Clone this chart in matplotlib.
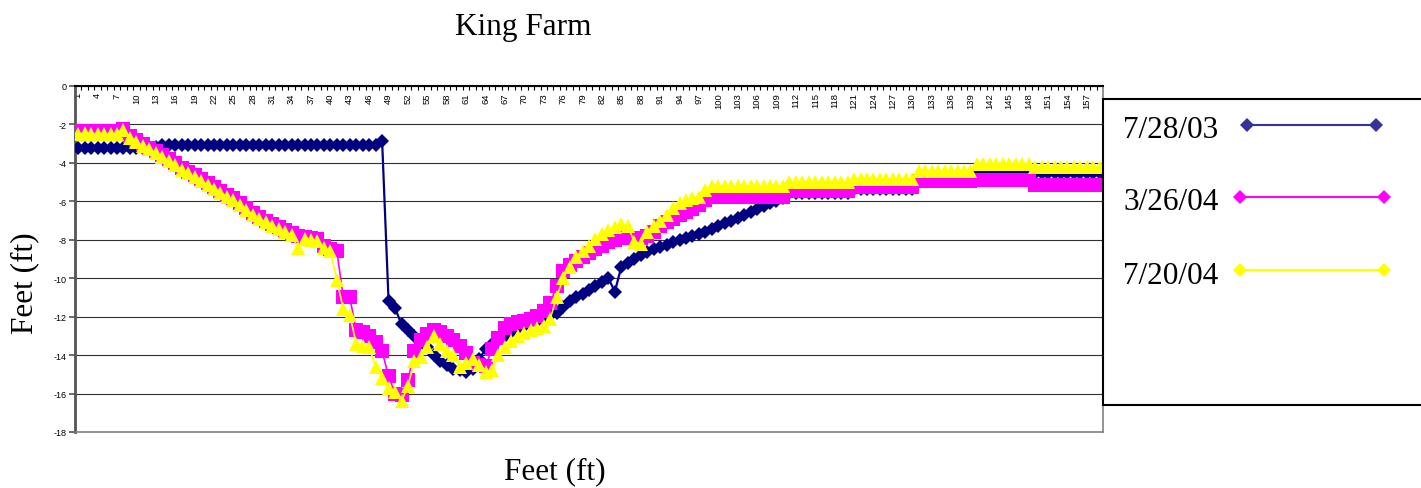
import matplotlib
matplotlib.use("Agg")
import matplotlib.pyplot as plt
from matplotlib.lines import Line2D
from matplotlib.patches import Rectangle

plt.rcParams['axes.unicode_minus'] = False
plt.rcParams['font.family'] = ['Liberation Sans', 'DejaVu Sans']

# station numbers along the section (category axis)
stations = list(range(1, 160))
station_labels = [str(s) for s in stations[::3]]

# depth readings (ft)
jul_2003 = [
    -3.25, -3.25, -3.25, -3.25, -3.25, -3.25, -3.2, -3.2, -3.2, -3.2,
    -3.2, -3.15, -3.15, -3.05, -3.05, -3.05, -3.05, -3.05, -3.05, -3.05,
    -3.05, -3.05, -3.05, -3.05, -3.05, -3.05, -3.05, -3.05, -3.05, -3.05,
    -3.05, -3.05, -3.05, -3.05, -3.05, -3.05, -3.05, -3.05, -3.05, -3.05,
    -3.05, -3.05, -3.05, -3.05, -3.05, -3.05, -3.05, -2.85, -11.2, -11.55,
    -12.4, -12.7, -13.0, -13.3, -13.6, -14.0, -14.3, -14.5, -14.7, -14.8,
    -14.9, -14.7, -14.2, -13.7, -13.4, -13.2, -13.0, -12.8, -12.6, -12.5,
    -12.3, -12.2, -12.0, -11.9, -11.8, -11.5, -11.2, -11.0, -10.8, -10.6,
    -10.4, -10.2, -10.0, -10.7, -9.4, -9.2, -9.0, -8.8, -8.65, -8.5,
    -8.4, -8.25, -8.1, -8.0, -7.9, -7.8, -7.7, -7.6, -7.45, -7.3,
    -7.15, -7.0, -6.85, -6.7, -6.55, -6.4, -6.25, -6.1, -6.0, -5.85,
    -5.55, -5.55, -5.55, -5.55, -5.55, -5.55, -5.55, -5.55, -5.55, -5.55,
    -5.35, -5.35, -5.35, -5.35, -5.35, -5.35, -5.35, -5.35, -5.35, -5.35,
    -4.95, -4.95, -4.95, -4.95, -4.95, -4.95, -4.95, -4.95, -4.95, -4.5,
    -4.5, -4.5, -4.5, -4.5, -4.5, -4.5, -4.5, -4.5, -4.55, -4.55,
    -4.55, -4.55, -4.55, -4.55, -4.55, -4.55, -4.55, -4.55, -4.55,
]

mar_2004 = [
    -2.35, -2.35, -2.35, -2.35, -2.35, -2.35, -2.35, -2.25, -2.6, -2.8,
    -3.0, -3.2, -3.4, -3.6, -3.8, -4.0, -4.25, -4.45, -4.65, -4.85,
    -5.05, -5.25, -5.45, -5.65, -5.85, -6.1, -6.35, -6.6, -6.8, -7.0,
    -7.2, -7.35, -7.5, -7.65, -7.8, -7.85, -7.9, -7.95, -8.3, -8.5,
    -8.6, -11.0, -11.0, -12.7, -12.8, -13.0, -13.3, -13.8, -15.1, -16.0,
    -16.1, -15.3, -13.8, -13.2, -12.9, -12.7, -12.8, -13.0, -13.2, -13.5,
    -13.9, -14.4, -14.5, -14.55, -13.7, -13.1, -12.6, -12.4, -12.3, -12.2,
    -12.1, -11.95, -11.7, -11.3, -10.4, -9.6, -9.3, -9.1, -8.9, -8.7,
    -8.5, -8.3, -8.1, -8.0, -7.9, -7.9, -7.9, -7.9, -7.8, -7.6,
    -7.3, -7.1, -6.9, -6.7, -6.55, -6.4, -6.2, -5.95, -5.8, -5.8,
    -5.8, -5.8, -5.8, -5.8, -5.8, -5.8, -5.8, -5.8, -5.8, -5.8,
    -5.45, -5.45, -5.45, -5.45, -5.45, -5.45, -5.45, -5.45, -5.45, -5.45,
    -5.25, -5.25, -5.25, -5.25, -5.25, -5.25, -5.25, -5.25, -5.25, -5.25,
    -4.95, -4.95, -4.95, -4.95, -4.95, -4.95, -4.95, -4.95, -4.95, -4.9,
    -4.9, -4.9, -4.9, -4.9, -4.9, -4.9, -4.9, -4.9, -5.15, -5.15,
    -5.15, -5.15, -5.15, -5.15, -5.15, -5.15, -5.15, -5.15, -5.15,
]

jul_2004 = [
    -2.5, -2.45, -2.5, -2.5, -2.5, -2.5, -2.5, -2.3, -2.7, -2.9,
    -3.1, -3.3, -3.5, -3.7, -3.9, -4.1, -4.35, -4.55, -4.75, -4.95,
    -5.15, -5.35, -5.55, -5.75, -5.95, -6.2, -6.45, -6.7, -6.9, -7.1,
    -7.3, -7.45, -7.6, -7.75, -8.45, -7.95, -8.0, -8.05, -8.45, -8.6,
    -10.1, -11.6, -11.9, -13.4, -13.5, -13.6, -14.6, -15.2, -15.7, -15.9,
    -16.4, -15.6, -14.3, -14.1, -13.6, -13.0, -13.4, -13.8, -14.0, -14.6,
    -14.4, -14.2, -14.5, -14.9, -14.8, -14.0, -13.6, -13.25, -13.0, -12.85,
    -12.7, -12.6, -12.5, -12.1, -11.0, -10.0, -9.4, -8.9, -8.6, -8.3,
    -7.95, -7.7, -7.5, -7.35, -7.2, -7.3, -8.1, -8.2, -7.6, -7.3,
    -7.0, -6.7, -6.35, -6.1, -5.95, -5.85, -5.8, -5.4, -5.2, -5.2,
    -5.2, -5.2, -5.2, -5.2, -5.2, -5.2, -5.2, -5.2, -5.2, -5.2,
    -5.0, -5.0, -5.0, -5.0, -5.0, -5.0, -5.0, -5.0, -5.0, -5.0,
    -4.85, -4.85, -4.85, -4.85, -4.85, -4.85, -4.85, -4.85, -4.85, -4.85,
    -4.4, -4.4, -4.4, -4.4, -4.4, -4.4, -4.4, -4.4, -4.4, -4.05,
    -4.05, -4.05, -4.05, -4.05, -4.05, -4.05, -4.05, -4.05, -4.2, -4.2,
    -4.2, -4.2, -4.2, -4.2, -4.2, -4.2, -4.2, -4.2, -4.2,
]

series_names = ['7/28/03', '3/26/04', '7/20/04']
y_ticks = [0, -2, -4, -6, -8, -10, -12, -14, -16, -18]

W, H = 1421, 489
fig = plt.figure(figsize=(W / 100, H / 100), dpi=100)
ax = fig.add_axes([75 / W, 1 - 433 / H, (1103 - 75) / W, (433 - 87) / H])

ax.plot(stations, jul_2003, color='#000080', lw=1.6, marker='D', ms=7.6,
        mew=0, zorder=3)
ax.plot(stations, mar_2004, color='#FF00FF', lw=1.2, marker='s', ms=10,
        mew=0, zorder=4)
ax.plot(stations, jul_2004, color='#FFFF00', lw=1.2, marker='^', ms=10.5,
        mew=0, zorder=5)

ax.set_xlim(0.5, 159.5)
ax.set_ylim(-18, 0)

# y axis
ax.set_yticks(y_ticks)
ax.set_yticklabels([str(v) for v in y_ticks])
ax.tick_params(axis='y', direction='out', length=4, width=1.2,
               color='#555555', labelsize=6.5, pad=2)
ax.grid(axis='y', color='#303030', lw=0.8)
ax.set_axisbelow(True)

# category axis sits at y = 0 (top), labels hang below it
ax.set_xticks(stations[::3])
ax.set_xticklabels(station_labels)
ax.set_xticks([s + 0.5 for s in stations[:-1]], minor=True)
ax.tick_params(axis='x', which='both', bottom=False, labelbottom=False,
               top=True, labeltop=True, direction='in', color='#000000')
ax.tick_params(axis='x', which='major', length=0, labelsize=6.8,
               labelrotation=90, pad=-4.5)
ax.tick_params(axis='x', which='minor', length=3, width=0.8)
for t in ax.xaxis.get_major_ticks():
    t.label2.set_va('top')

ax.spines['top'].set_color('#000000')
ax.spines['top'].set_linewidth(1.5)
ax.spines['left'].set_color('#555555')
ax.spines['left'].set_linewidth(2)
for side in ['right', 'bottom']:
    ax.spines[side].set_color('#808080')
    ax.spines[side].set_linewidth(1.2)

serif = ['Liberation Serif', 'DejaVu Serif']
fig.text(523 / W, 1 - 27 / H, 'King Farm', family=serif, fontsize=22.5,
         ha='center', va='center')
fig.text(555 / W, 1 - 472 / H, 'Feet (ft)', family=serif, fontsize=22.5,
         ha='center', va='center')
fig.text(25 / W, 1 - 283 / H, 'Feet (ft)', family=serif, fontsize=22.5,
         ha='center', va='center', rotation=90)

# legend box on the right, running off the figure edge
fig.add_artist(Rectangle((1103 / W, 1 - 406 / H), 330 / W, (406 - 100) / H,
                         transform=fig.transFigure, facecolor='white',
                         edgecolor='black', lw=1.5, clip_on=False))
legend_rows = [
    (series_names[0], '#333399', 130, 126, 1247, 1376),
    (series_names[1], '#FF00FF', 203, 198, 1240, 1384),
    (series_names[2], '#FFFF00', 277, 271, 1240, 1384),
]
for name, col, ty, ly, x0, x1 in legend_rows:
    fig.text(1123 / W, 1 - ty / H, name, family=serif, fontsize=22.5,
             ha='left', va='center')
    fig.add_artist(Line2D([x0 / W, x1 / W], [1 - ly / H, 1 - ly / H],
                          transform=fig.transFigure, color=col, lw=1.5,
                          marker='D', ms=7.5, mew=0))

fig.savefig('out.png', dpi=100)
